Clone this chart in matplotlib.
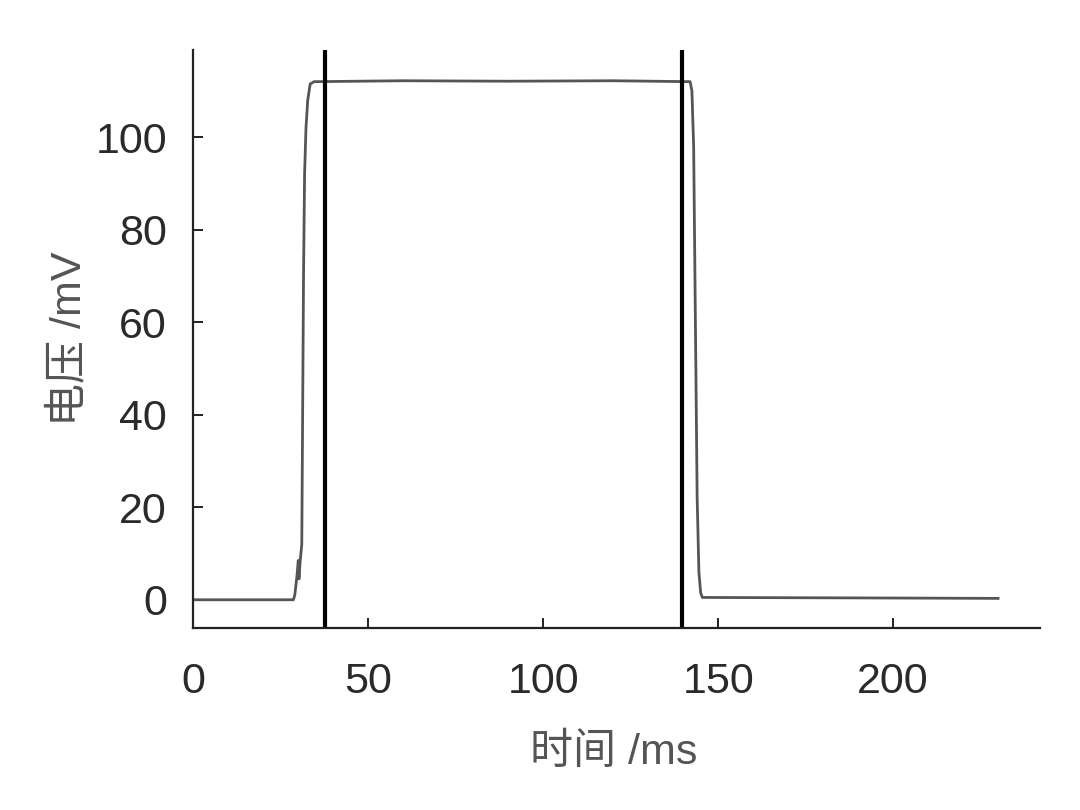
import matplotlib
matplotlib.use("Agg")
import matplotlib.pyplot as plt

# signal data (ms, mV)
time_ms = [0, 28.6, 29.0, 29.6, 30.0, 30.2, 30.5, 31.0, 31.2, 31.5, 31.8, 32.2, 32.7, 33.4, 34.5,
           60, 90, 120, 142.0, 142.5, 143.0, 143.5, 144.0, 144.5, 145.0, 145.5, 190, 230]
voltage_mv = [0, 0, 1, 5, 8.5, 4.5, 8, 12, 35, 70, 92, 102, 108, 111.5, 112,
              112.2, 112.1, 112.2, 112, 110, 98, 60, 22, 6, 1.5, 0.5, 0.4, 0.3]

# marker lines (ms)
marker_times = [37.7, 139.6]

xticks = [0, 50, 100, 150, 200]
yticks = [0, 20, 40, 60, 80, 100]

fig = plt.figure(figsize=(10.8, 8.1), dpi=100)
ax = fig.add_axes([0.179, 0.225, 0.784, 0.713])

ax.plot(time_ms, voltage_mv, color="#555555", lw=2.0)
for t in marker_times:
    ax.axvline(t, color="black", lw=3.0)

ax.set_xlim(0, 242)
ax.set_ylim(-6.05, 118.8)
ax.set_xticks(xticks)
ax.set_yticks(yticks)

for s in ["top", "right"]:
    ax.spines[s].set_visible(False)
for s in ["left", "bottom"]:
    ax.spines[s].set_linewidth(1.6)
    ax.spines[s].set_color("#222222")

ax.tick_params(axis="both", direction="in", length=7, width=1.4, colors="#222222")
ax.tick_params(axis="x", pad=25)
ax.tick_params(axis="y", pad=19)
for lab in ax.get_xticklabels() + ax.get_yticklabels():
    lab.set_fontfamily(["Liberation Sans", "DejaVu Sans"])
    lab.set_fontsize(31)
    lab.set_color("#2a2a2a")

labfam = ["Liberation Sans", "Noto Sans CJK SC"]
ax.set_xlabel("时间 /ms", family=labfam, fontsize=31, color="#555555")
ax.set_ylabel("电压 /mV", family=labfam, fontsize=31, color="#555555")
ax.xaxis.set_label_coords(0.497, -0.182)
ax.yaxis.set_label_coords(-0.122, 0.5)

fig.savefig("out.png", dpi=100, facecolor="white")
